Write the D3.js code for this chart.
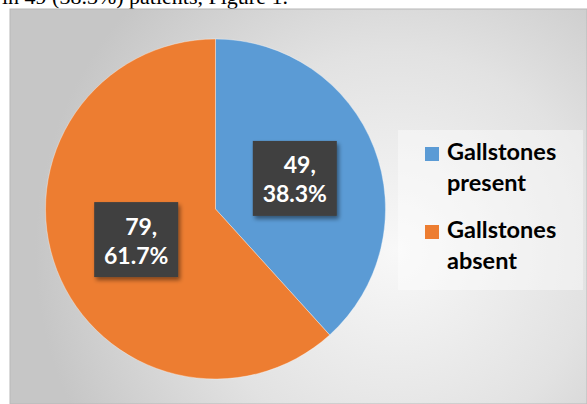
<!DOCTYPE html>
<html>
<head>
<meta charset="utf-8">
<script src="https://cdn.jsdelivr.net/npm/d3@7/dist/d3.min.js"></script>
<style>
  html, body { margin: 0; padding: 0; background: #ffffff; }
  svg { display: block; }
</style>
</head>
<body>
<svg id="chart" width="587" height="404"></svg>
<script>
// Gallstone findings among patients
const categories = ["Gallstones present", "Gallstones absent"];
const counts = [49, 79];
const percentLabels = ["38.3%", "61.7%"];
const colors = ["#5b9bd5", "#ed7d31"];
const captionText = "in 49 (38.3%) patients, Figure 1.";

const svg = d3.select("#chart");
const W = 587, H = 404;

// Chart area frame
const frame = { x: 10, y: 9, w: W - 10, h: H - 9 };

const defs = svg.append("defs");
const bg = defs.append("radialGradient")
  .attr("id", "bgGrad")
  .attr("gradientUnits", "userSpaceOnUse")
  .attr("cx", 395).attr("cy", 250).attr("r", 360);
bg.append("stop").attr("offset", "0").attr("stop-color", "#f8f8f8");
bg.append("stop").attr("offset", "0.55").attr("stop-color", "#e2e2e2");
bg.append("stop").attr("offset", "1").attr("stop-color", "#c6c6c6");

const shadow = defs.append("filter").attr("id", "boxShadow")
  .attr("x", "-20%").attr("y", "-20%").attr("width", "150%").attr("height", "150%");
shadow.append("feDropShadow")
  .attr("dx", 2).attr("dy", 3).attr("stdDeviation", 2)
  .attr("flood-color", "#000").attr("flood-opacity", 0.45);

// Caption line of the surrounding text, clipped by the top of the page
svg.append("text")
  .attr("x", 2).attr("y", 4)
  .attr("font-family", "'Liberation Serif', 'Times New Roman', serif")
  .attr("font-size", 22)
  .attr("fill", "#000")
  .text(captionText);

svg.append("rect")
  .attr("x", frame.x).attr("y", frame.y)
  .attr("width", frame.w).attr("height", frame.h)
  .attr("fill", "url(#bgGrad)")
  .attr("stroke", "#b8b8b8").attr("stroke-width", 1);

// Pie
const cx = 215.5, cy = 209, radius = 170;
const pie = d3.pie().sort(null).value(d => d)(counts);
const arc = d3.arc().innerRadius(0).outerRadius(radius);
const labelArc = d3.arc().innerRadius(radius * 0.5).outerRadius(radius * 0.5);

const g = svg.append("g").attr("transform", `translate(${cx},${cy})`);
g.selectAll("path.slice")
  .data(pie)
  .join("path")
  .attr("class", "slice")
  .attr("d", arc)
  .attr("fill", (d, i) => colors[i])
  .attr("stroke", "#ffffff")
  .attr("stroke-opacity", 0.7)
  .attr("stroke-width", 0.5);

// Data labels in dark callout boxes
const boxW = 84, boxH = 75;
const labels = g.selectAll("g.lbl")
  .data(pie)
  .join("g")
  .attr("class", "lbl")
  .attr("transform", d => {
    const [x, y] = labelArc.centroid(d);
    return `translate(${x},${y})`;
  });
labels.append("rect")
  .attr("x", -boxW / 2).attr("y", -boxH / 2)
  .attr("width", boxW).attr("height", boxH)
  .attr("fill", "#404040")
  .attr("filter", "url(#boxShadow)");
labels.append("text")
  .attr("text-anchor", "middle")
  .attr("font-family", "Lato, 'Open Sans', sans-serif")
  .attr("font-weight", 700)
  .attr("font-size", 23)
  .attr("fill", "#ffffff")
  .selectAll("tspan")
  .data((d, i) => [counts[i] + ",", percentLabels[i]])
  .join("tspan")
  .attr("x", (d, j) => j === 0 ? 5 : 0)
  .attr("y", (d, j) => j === 0 ? -5 : 24)
  .text(d => d);

// Legend
const legend = svg.append("g");
legend.append("rect")
  .attr("x", 398).attr("y", 130)
  .attr("width", 185).attr("height", 160)
  .attr("fill", "#ffffff").attr("fill-opacity", 0.4);

const legendTop = [147, 225];
const items = legend.selectAll("g.item")
  .data(categories)
  .join("g")
  .attr("class", "item")
  .attr("transform", (d, i) => `translate(425,${legendTop[i]})`);
items.append("rect")
  .attr("width", 14).attr("height", 14)
  .attr("fill", (d, i) => colors[i]);
items.append("text")
  .attr("font-family", "Lato, 'Open Sans', sans-serif")
  .attr("font-weight", 700)
  .attr("font-size", 23.5)
  .attr("fill", "#000")
  .selectAll("tspan")
  .data(d => d.split(" "))
  .join("tspan")
  .attr("x", 22)
  .attr("y", (d, j) => 13 + j * 31)
  .text(d => d);
</script>
</body>
</html>
